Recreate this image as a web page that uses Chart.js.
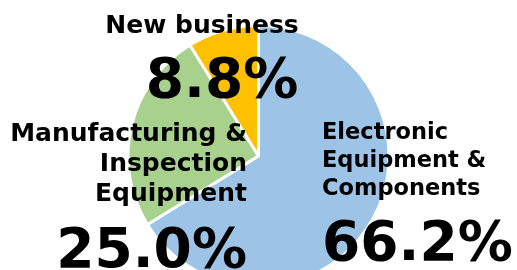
<!DOCTYPE html>
<html>
<head>
<meta charset="utf-8">
<script src="https://cdn.jsdelivr.net/npm/chart.js@4"></script>
<style>
  html, body { margin: 0; padding: 0; background: #fff; overflow: hidden; }
  #wrap { width: 517px; height: 270px; overflow: hidden; }
</style>
</head>
<body>
<div id="wrap"><canvas id="chart" width="517" height="300"></canvas></div>
<script>
// datos del gráfico
const categories = ["Electronic Equipment & Components", "Manufacturing & Inspection Equipment", "New business"];
const shares = [66.2, 25.0, 8.8];
const sliceColors = ["#9DC3E6", "#A9D18E", "#FFC000"];

// lineas de cada etiqueta
const labelLines = [
  ["Electronic", "Equipment &", "Components"],
  ["Manufacturing &", "Inspection", "Equipment"],
  ["New business"],
];

// posicion de las etiquetas (x, y de la primera linea, alineacion)
const labelSpots = [
  { x: 322, y: 139, align: "left", gap: 28, size: 22.5, pctY: 260 },
  { x: 247, y: 141, align: "right", gap: 30, size: 25, pctY: 267 },
  { x: 202, y: 33, align: "center", gap: 0, size: 25, pctY: 97, pctX: 222 },
];

const labelPlugin = {
  id: "labels",
  afterDraw(chart) {
    const ctx = chart.ctx;
    ctx.save();
    ctx.fillStyle = "#000";
    ctx.textBaseline = "alphabetic";
    labelLines.forEach((lines, i) => {
      const s = labelSpots[i];
      ctx.textAlign = s.align;
      ctx.font = `bold ${s.size}px 'DejaVu Sans'`;
      lines.forEach((t, j) => ctx.fillText(t, s.x, s.y + j * s.gap));
      ctx.font = "bold 55px 'DejaVu Sans'";
      ctx.fillText(shares[i].toFixed(1) + "%", s.pctX || s.x, s.pctY);
    });
    ctx.restore();
  },
};

new Chart(document.getElementById("chart"), {
  type: "pie",
  data: {
    labels: categories,
    datasets: [
      {
        data: shares,
        backgroundColor: sliceColors,
        borderColor: "#ffffff",
        borderWidth: 3,
      },
    ],
  },
  options: {
    responsive: false,
    animation: false,
    layout: { padding: { top: 24, bottom: 12 } },
    plugins: {
      legend: { display: false },
      tooltip: { enabled: false },
    },
  },
  plugins: [labelPlugin],
});
</script>
</body>
</html>
